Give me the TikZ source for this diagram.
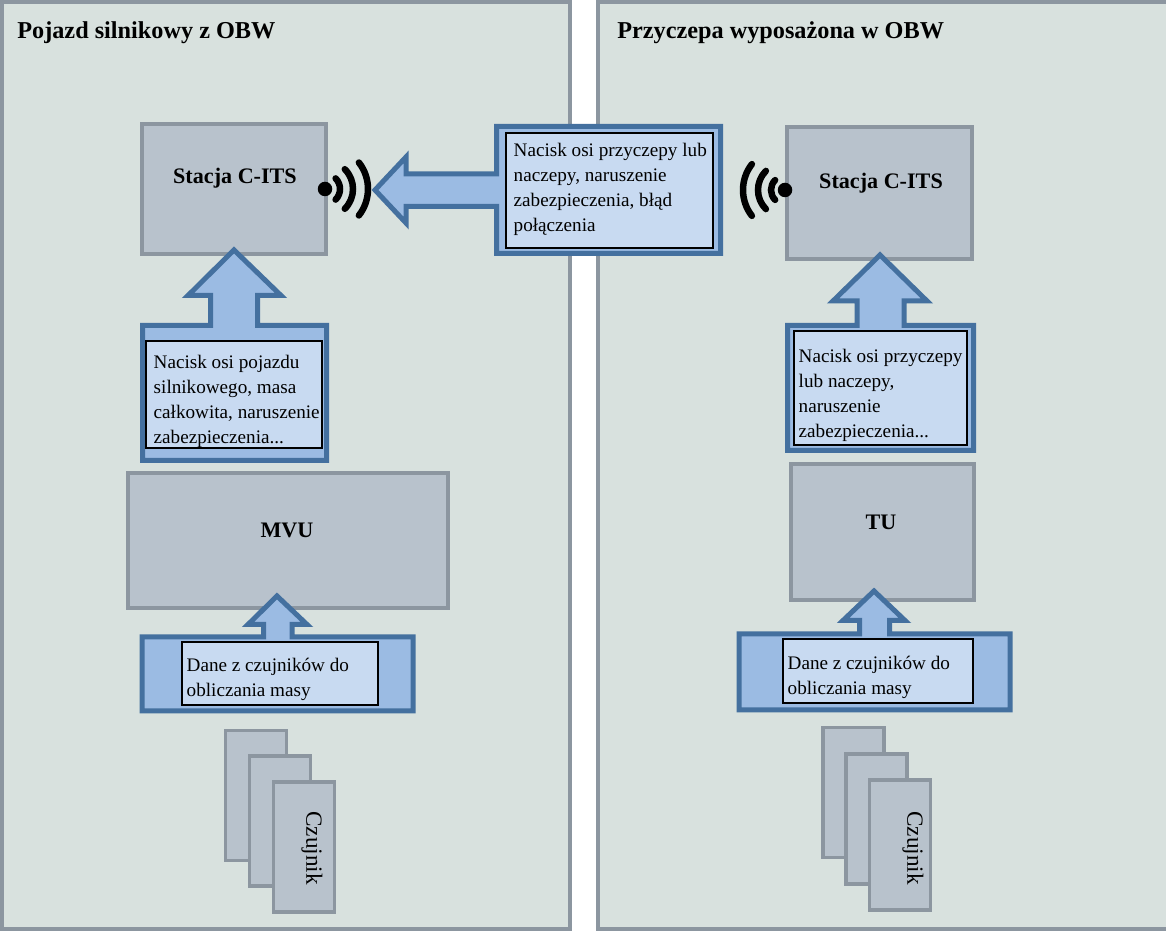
\documentclass[tikz,border=0pt]{standalone}
\usepackage{fontspec}
\setmainfont{Liberation Serif}
\usetikzlibrary{positioning}
\definecolor{panelfill}{HTML}{D8E1DE}
\definecolor{boxline}{HTML}{8C96A0}
\definecolor{boxfill}{HTML}{B8C2CC}
\definecolor{calloutline}{HTML}{44709F}
\definecolor{calloutfill}{HTML}{9BBBE3}
\definecolor{msgfill}{HTML}{C8DAF1}
\tikzset{
  panelbox/.style={draw=boxline,fill=panelfill,line width=0.09cm},
  unitbox/.style={draw=boxline,fill=boxfill,line width=0.07cm},
  sensorbox/.style={unitbox,minimum width=1.22cm,minimum height=2.60cm},
  callout/.style={draw=calloutline,fill=calloutfill,line width=0.10cm,miter limit=10},
  msgbox/.style={draw=black,fill=msgfill,line width=0.025cm,inner sep=0},
  msgtext/.style={align=left,inner sep=0,font=\fontsize{10.9}{14.2}\selectfont},
  headtext/.style={font=\fontsize{13.8}{16}\selectfont\bfseries,anchor=west,inner sep=0},
  unittext/.style={font=\fontsize{12.6}{15}\selectfont\bfseries,inner sep=0},
  sensortext/.style={font=\fontsize{13.2}{14}\selectfont,rotate=-90,inner sep=0},
  wifidot/.style={fill=black,circle,minimum size=0.29cm,inner sep=0},
  wifiarc/.style={draw=black,line width=0.13cm,line cap=round},
}
\begin{document}
\begin{tikzpicture}[x=1cm,y=1cm]
\useasboundingbox (0,0) rectangle (23.32,18.62);

\node[panelbox,minimum width=11.37cm,minimum height=18.56cm] (leftpanel) at (5.715,9.31) {};
\node[panelbox,minimum width=11.54cm,minimum height=18.56cm] (rightpanel) at (17.73,9.31) {};
\node[headtext] (lefthead) at (0.34,17.96) {Pojazd silnikowy z OBW};
\node[headtext] (righthead) at (12.34,17.96) {Przyczepa wyposażona w OBW};

\node[unitbox,minimum width=3.68cm,minimum height=2.60cm] (leftstation) at (4.68,14.84) {};
\node[unitbox,minimum width=3.70cm,minimum height=2.64cm] (rightstation) at (17.59,14.76) {};
\node[unittext] (leftstationtext) at (4.70,15.06) {Stacja C-ITS};
\node[unittext] (rightstationtext) at (17.62,14.96) {Stacja C-ITS};
\node[unitbox,minimum width=6.40cm,minimum height=2.70cm] (mvu) at (5.76,7.81) {};
\node[unitbox,minimum width=3.66cm,minimum height=2.72cm] (tu) at (17.65,7.98) {};
\node[unittext] (mvutext) at (5.74,8.02) {MVU};
\node[unittext] (tutext) at (17.62,8.18) {TU};

\draw[callout] (9.93,16.09) -- (14.41,16.09) -- (14.41,13.55) -- (9.93,13.55) -- (9.93,14.49) -- (8.12,14.49) -- (8.12,14.16)
  -- (7.50,14.82) -- (8.12,15.48) -- (8.12,15.14) -- (9.93,15.14) -- cycle;
\node[msgbox,minimum width=4.14cm,minimum height=2.30cm] (topmsg) at (12.19,14.81) {};
\node[msgtext,right=0.16cm of topmsg.west,yshift=0.02cm] (topmsgtext)
  {Nacisk osi przyczepy lub\\naczepy, naruszenie\\zabezpieczenia, błąd\\połączenia};

\draw[callout] (2.85,12.11) -- (4.21,12.11) -- (4.21,12.71) -- (3.76,12.71) -- (4.68,13.62) -- (5.62,12.71) -- (5.15,12.71)
  -- (5.15,12.11) -- (6.53,12.11) -- (6.53,9.41) -- (2.85,9.41) -- cycle;
\node[msgbox,minimum width=3.52cm,minimum height=2.14cm] (leftmsg) at (4.68,10.73) {};
\node[msgtext,right=0.16cm of leftmsg.west,yshift=-0.13cm] (leftmsgtext)
  {Nacisk osi pojazdu\\silnikowego, masa\\całkowita, naruszenie\\zabezpieczenia...};

\draw[callout] (15.75,12.11) -- (17.14,12.11) -- (17.14,12.60) -- (16.66,12.60) -- (17.60,13.52) -- (18.54,12.60) -- (18.08,12.60)
  -- (18.08,12.11) -- (19.47,12.11) -- (19.47,9.61) -- (15.75,9.61) -- cycle;
\node[msgbox,minimum width=3.46cm,minimum height=2.28cm] (rightmsg) at (17.61,10.86) {};
\node[msgtext,right=0.10cm of rightmsg.west,yshift=-0.14cm] (rightmsgtext)
  {Nacisk osi przyczepy\\lub naczepy,\\naruszenie\\zabezpieczenia...};

\draw[callout] (2.84,5.88) -- (5.27,5.88) -- (5.27,6.13) -- (4.96,6.13) -- (5.54,6.70) -- (6.14,6.13) -- (5.84,6.13)
  -- (5.84,5.88) -- (8.26,5.88) -- (8.26,4.40) -- (2.84,4.40) -- cycle;
\node[msgbox,minimum width=3.92cm,minimum height=1.26cm] (leftdata) at (5.60,5.15) {};
\node[msgtext,right=0.10cm of leftdata.west,yshift=-0.12cm] (leftdatatext)
  {Dane z czujników do\\obliczania masy};

\draw[callout] (14.78,5.94) -- (17.19,5.94) -- (17.19,6.21) -- (16.86,6.21) -- (17.48,6.80) -- (18.10,6.21) -- (17.79,6.21)
  -- (17.79,5.94) -- (20.20,5.94) -- (20.20,4.42) -- (14.78,4.42) -- cycle;
\node[msgbox,minimum width=3.80cm,minimum height=1.28cm] (rightdata) at (17.56,5.20) {};
\node[msgtext,right=0.10cm of rightdata.west,yshift=-0.12cm] (rightdatatext)
  {Dane z czujników do\\obliczania masy};

\node[sensorbox] (leftsensora) at (5.12,2.71) {};
\node[sensorbox] (leftsensorb) at (5.60,2.20) {};
\node[sensorbox] (leftsensorc) at (6.08,1.68) {};
\node[sensortext] (leftsensortext) at (6.24,1.66) {Czujnik};
\node[sensorbox] (rightsensora) at (17.07,2.77) {};
\node[sensorbox] (rightsensorb) at (17.53,2.24) {};
\node[sensorbox] (rightsensorc) at (18.00,1.72) {};
\node[sensortext] (rightsensortext) at (18.26,1.66) {Czujnik};

\node[wifidot] (leftdot) at (6.50,14.84) {};
\foreach \r/\a in {0.30/45,0.56/45,0.86/38}
  \draw[wifiarc] (leftdot.center) ++(-\a:\r) arc (-\a:\a:\r);
\node[wifidot] (rightdot) at (15.70,14.82) {};
\foreach \r/\a in {0.28/45,0.54/45,0.84/38}
  \draw[wifiarc] (rightdot.center) ++(180-\a:\r) arc (180-\a:180+\a:\r);
\end{tikzpicture}
\end{document}
